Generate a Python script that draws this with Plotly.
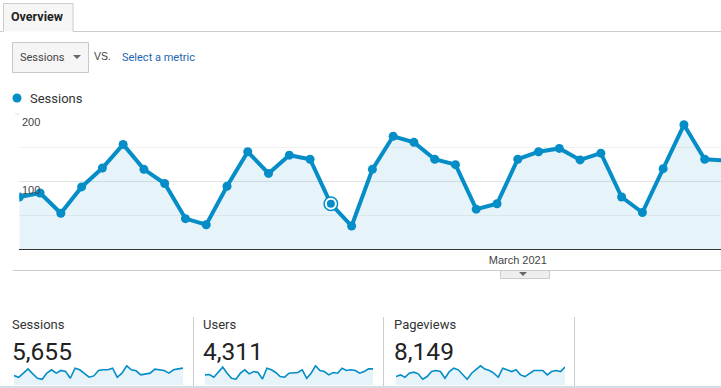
import plotly.graph_objects as go
import pandas as pd

# ---------------- data ----------------
start_date = "2021-02-05"
sessions_daily = [77, 83, 53, 92, 120, 155, 118, 97, 45, 36, 93, 144, 112, 139, 133, 67, 34,
                  118, 167, 158, 133, 125, 59, 67, 133, 144, 149, 132, 142, 77, 54, 119, 184, 133, 131]
highlight_index = 15
month_tick = "2021-03-01"
month_label = "March 2021"
y_tick_values = [100, 200]
y_minor_values = [50, 150]

card_names = ["Sessions", "Users", "Pageviews"]
card_totals = ["5,655", "4,311", "8,149"]
spark_sessions = [92, 76, 116, 158, 109, 66, 56, 116, 149, 116, 142, 132, 66, 165, 149, 116, 76, 89,
                  142, 149, 149, 165, 76, 116, 188, 149, 139, 99, 109, 116, 155, 149, 142, 116, 149, 158, 165]
spark_users = [75, 78, 58, 93, 133, 88, 50, 43, 88, 113, 83, 100, 93, 45, 125, 113, 93, 63, 58, 88,
               93, 93, 113, 50, 88, 143, 108, 100, 75, 93, 88, 125, 108, 113, 108, 88, 100, 120, 120]
spark_pageviews = [113, 135, 104, 158, 171, 149, 77, 113, 180, 194, 180, 90, 180, 225, 203, 135, 77, 158,
                   203, 257, 212, 194, 158, 104, 225, 203, 180, 203, 135, 113, 158, 194, 194, 194, 135,
                   180, 194, 180, 239]
sparks = [spark_sessions, spark_users, spark_pageviews]

# ---------------- style ----------------
W, H = 721, 388
BLUE = "#058dc7"
FILL = "rgba(5,141,199,0.10)"
GREY = "#cccccc"


def px(x):
    return x / W


def py(y):
    return 1 - y / H


dates = pd.date_range(start_date, periods=len(sessions_daily), freq="D")
x_end = dates[0] + pd.Timedelta(days=(W - 19.3) / 20.77)

fig = go.Figure()

fig.add_trace(go.Scatter(
    x=dates, y=sessions_daily, mode="lines+markers",
    line=dict(color=BLUE, width=4), marker=dict(color=BLUE, size=9),
    fill="tozeroy", fillcolor=FILL, xaxis="x", yaxis="y", hoverinfo="skip"))
fig.add_trace(go.Scatter(
    x=[dates[highlight_index]], y=[sessions_daily[highlight_index]], mode="markers",
    marker=dict(color=BLUE, size=15), xaxis="x", yaxis="y", hoverinfo="skip"))
fig.add_trace(go.Scatter(
    x=[dates[highlight_index]], y=[sessions_daily[highlight_index]], mode="markers",
    marker=dict(color=BLUE, size=10, line=dict(color="white", width=2)),
    xaxis="x", yaxis="y", hoverinfo="skip"))

card_x = [(14, 183), (205, 373), (396, 565)]
for i, vals in enumerate(sparks):
    n = i + 2
    fig.add_trace(go.Scatter(
        x=list(range(len(vals))), y=vals, mode="lines",
        line=dict(color=BLUE, width=1.6), fill="tozeroy", fillcolor=FILL,
        xaxis=f"x{n}", yaxis=f"y{n}", hoverinfo="skip"))

layout = dict(
    width=W, height=H, autosize=False,
    margin=dict(l=0, r=0, t=0, b=0),
    paper_bgcolor="white", plot_bgcolor="rgba(0,0,0,0)",
    showlegend=False, hovermode=False,
    font=dict(family="Roboto, Arial", color="#333"),
    xaxis=dict(domain=[px(19.3), 1], range=[dates[0], x_end], type="date",
               tickmode="array", tickvals=[month_tick], ticktext=[month_label],
               ticks="", showgrid=False, showline=True, linecolor="#333", linewidth=1,
               tickfont=dict(family="Arial", size=11, color="#444"), ticklabelstandoff=1,
               zeroline=False, fixedrange=True),
    yaxis=dict(domain=[py(249), py(114)], range=[0, 200],
               tickmode="array", tickvals=y_tick_values, showticklabels=False,
               showgrid=True, gridcolor="#e3e3e3", gridwidth=1, zeroline=False, showline=False,
               minor=dict(tickmode="array", tickvals=y_minor_values, showgrid=True,
                          gridcolor="#f1f1f1", gridwidth=1),
               fixedrange=True),
)
for i, vals in enumerate(sparks):
    n = i + 2
    x0, x1 = card_x[i]
    layout[f"xaxis{n}"] = dict(domain=[px(x0), px(x1)], range=[0, len(vals) - 1], visible=False,
                               anchor=f"y{n}")
    layout[f"yaxis{n}"] = dict(domain=[py(385), py(365)], range=[0, max(vals) * 1.04], visible=False,
                               anchor=f"x{n}")
fig.update_layout(**layout)

shapes = []
# top rule + Overview tab
shapes.append(dict(type="line", x0=px(0), x1=px(3.5), y0=py(31.5), y1=py(31.5), line=dict(color=GREY, width=1)))
shapes.append(dict(type="line", x0=px(73), x1=px(721), y0=py(31.5), y1=py(31.5), line=dict(color=GREY, width=1)))
shapes.append(dict(type="path",
                   path=f"M {px(3.5)},{py(31.5)} L {px(3.5)},{py(3.5)} L {px(73)},{py(3.5)} L {px(73)},{py(31.5)}",
                   fillcolor="#f6f6f6", line=dict(color=GREY, width=1)))
# dropdown
shapes.append(dict(type="rect", x0=px(12.5), x1=px(88.5), y0=py(72.5), y1=py(42.5),
                   fillcolor="#f5f5f5", line=dict(color="#c8c8c8", width=1)))
shapes.append(dict(type="path",
                   path=f"M {px(73)},{py(55)} L {px(81)},{py(55)} L {px(77)},{py(59)} Z",
                   fillcolor="#666", line=dict(width=0)))
# legend dot
shapes.append(dict(type="circle", x0=px(12.5), x1=px(21.5), y0=py(102.5), y1=py(93.5),
                   fillcolor=BLUE, line=dict(width=0)))
# left extension of top grid line
shapes.append(dict(type="line", x0=px(15), x1=px(19.3), y0=py(114), y1=py(114), line=dict(color="#e3e3e3", width=1)))
# chart bottom rule + handle tab
shapes.append(dict(type="line", x0=px(13), x1=px(721), y0=py(270.5), y1=py(270.5), line=dict(color=GREY, width=1)))
shapes.append(dict(type="rect", x0=px(500.5), x1=px(549.5), y0=py(278.5), y1=py(270.5),
                   fillcolor="#eeeeee", line=dict(color=GREY, width=1)))
shapes.append(dict(type="path",
                   path=f"M {px(519)},{py(272)} L {px(527)},{py(272)} L {px(523)},{py(276)} Z",
                   fillcolor="#666", line=dict(width=0)))
# scorecard dividers
for xv in (193.5, 383.5, 574.5):
    shapes.append(dict(type="line", x0=px(xv), x1=px(xv), y0=py(317), y1=py(388), line=dict(color=GREY, width=1)))
shapes.append(dict(type="line", x0=0, x1=1, y0=py(387), y1=py(387), line=dict(color="#d5dce3", width=2)))
for s in shapes:
    s.update(xref="paper", yref="paper", layer="above")
fig.update_layout(shapes=shapes)

ann = []
ann.append(dict(x=px(11), y=py(17), text="<b>Overview</b>", xanchor="left", yanchor="middle",
                font=dict(family="Roboto", size=12.5, color="#222")))
ann.append(dict(x=px(19.5), y=py(57.5), text="Sessions", xanchor="left", yanchor="middle",
                font=dict(family="Roboto", size=11, color="#444")))
ann.append(dict(x=px(93.5), y=py(56), text="VS.", xanchor="left", yanchor="middle",
                font=dict(family="Arial", size=10.5, color="#444")))
ann.append(dict(x=px(121.5), y=py(57.5), text="Select a metric", xanchor="left", yanchor="middle",
                font=dict(family="Roboto", size=11, color="#2266b0")))
ann.append(dict(x=px(30), y=py(98), text="Sessions", xanchor="left", yanchor="middle",
                font=dict(family="Roboto", size=13, color="#333")))
label_x = [12, 202.5, 394]
for i in range(3):
    ann.append(dict(x=px(label_x[i]), y=py(324), text=card_names[i], xanchor="left", yanchor="middle",
                    font=dict(family="Roboto", size=13, color="#333")))
    ann.append(dict(x=px(label_x[i]), y=py(351), text=card_totals[i], xanchor="left", yanchor="middle",
                    font=dict(family="Roboto", size=24.5, color="#222")))
for a in ann:
    a.update(xref="paper", yref="paper", showarrow=False, xshift=-2)
# y-axis value labels drawn above the series, just below their grid lines
for v in y_tick_values:
    ann.append(dict(x=px(20), y=v, xref="paper", yref="y", text=str(v), showarrow=False,
                    xanchor="left", yanchor="middle", yshift=-8,
                    font=dict(family="Arial", size=11, color="#444")))
fig.update_layout(annotations=ann)

fig.write_html("out.html", config={"displayModeBar": False},
               post_script="document.body.style.margin='0';document.body.style.overflow='hidden';")
